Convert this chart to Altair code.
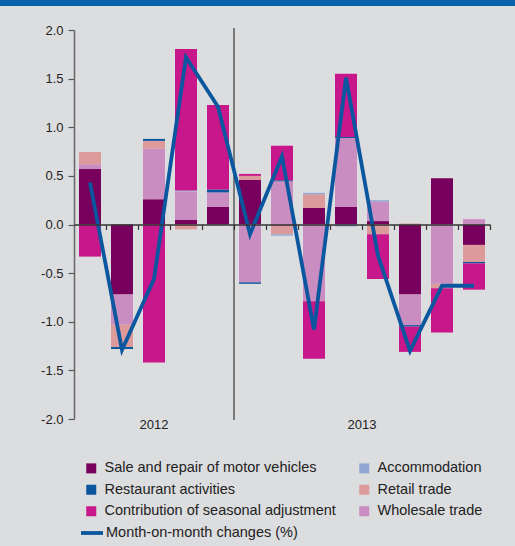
import altair as alt
import pandas as pd

months = ["2012-08", "2012-09", "2012-10", "2012-11", "2012-12",
          "2013-01", "2013-02", "2013-03", "2013-04", "2013-05",
          "2013-06", "2013-07", "2013-08"]

sale = [0.57, -0.72, 0.26, 0.05, 0.18, 0.46, -0.01, 0.17, 0.18, 0.035, -0.72, 0.475, -0.21]
wholesale = [0.05, -0.31, 0.52, 0.29, 0.15, -0.595, 0.445, -0.79, 0.71, 0.20, -0.315, -0.61, 0.055]
retail = [0.125, -0.23, 0.08, -0.05, 0.0, 0.04, -0.09, 0.14, 0.0, -0.10, 0.01, -0.045, -0.175]
accommodation = [0.0, 0.0, 0.0, 0.01, 0.0, 0.0, -0.015, 0.015, -0.02, 0.015, 0.0, 0.0, 0.0]
restaurant = [0.0, -0.02, 0.02, 0.0, 0.03, -0.015, 0.01, 0.0, 0.01, 0.0, -0.015, 0.0, -0.015]
seasonal = [-0.33, 0.0, -1.42, 1.455, 0.87, 0.02, 0.355, -0.59, 0.65, -0.46, -0.26, -0.455, -0.27]
mom = [0.43, -1.29, -0.56, 1.72, 1.21, -0.10, 0.70, -1.08, 1.51, -0.32, -1.30, -0.63, -0.63]

years = ["2012", "2013"]
year_pos = ["2012-10", "2013-04"]

series_names = ["Sale and repair of motor vehicles", "Wholesale trade", "Retail trade",
                "Accommodation", "Restaurant activities", "Contribution of seasonal adjustment"]
series_vals = [sale, wholesale, retail, accommodation, restaurant, seasonal]

legend_order = ["Sale and repair of motor vehicles", "Restaurant activities",
                "Contribution of seasonal adjustment", "Accommodation",
                "Retail trade", "Wholesale trade"]
legend_colors = ["#76005c", "#0a569e", "#c8168b", "#93a7d4", "#dc9a9a", "#c98dc2"]

rows = []
for k, (name, vals) in enumerate(zip(series_names, series_vals)):
    for m, v in zip(months, vals):
        rows.append({"month": m, "series": name, "value": v, "k": k})
bars_df = pd.DataFrame(rows)
line_df = pd.DataFrame({"month": months, "value": mom, "name": "Month-on-month changes (%)"})
year12 = pd.DataFrame({"month": [year_pos[0]], "label": [years[0]]})
year13 = pd.DataFrame({"month": [year_pos[1]], "label": [years[1]]})
div_df = pd.DataFrame({"month": ["2013-01"]})

FONT = "Liberation Sans"

xscale = alt.Scale(domain=months, paddingInner=0, paddingOuter=0)
yscale = alt.Scale(domain=[-2, 2], nice=False)

bars = alt.Chart(bars_df).mark_bar(width=alt.RelativeBandSize(22 / 32)).encode(
    x=alt.X("month:O", scale=xscale,
            axis=alt.Axis(orient="bottom", offset=-194.5, labels=False, title=None,
                          bandPosition=1, tickSize=5, tickColor="#333", tickWidth=1.2,
                          domainColor="#333", domainWidth=1.5, zindex=1)),
    y=alt.Y("value:Q", stack="zero", scale=yscale,
            axis=alt.Axis(values=[-2, -1.5, -1, -0.5, 0, 0.5, 1, 1.5, 2],
                          labelExpr="replace(format(datum.value, '.1f'), '\u2212', '-')",
                          title=None, grid=False, tickSize=6, tickColor="#555",
                          domainColor="#666", domainWidth=1.5, tickWidth=1.2,
                          labelFont=FONT, labelFontSize=13, labelColor="#222",
                          labelPadding=5)),
    color=alt.Color("series:N",
                    scale=alt.Scale(domain=legend_order, range=legend_colors),
                    legend=alt.Legend(orient="none", legendX=10, legendY=431, columns=2,
                                      columnPadding=21, rowPadding=6.5, symbolType="square",
                                      symbolSize=100, symbolStrokeWidth=0, labelOffset=6,
                                      labelFont=FONT, labelFontSize=14.5, labelColor="#222",
                                      title=None, padding=0, labelLimit=400)),
    order=alt.Order("k:Q", sort="ascending"),
)

divider = alt.Chart(div_df).mark_rule(color="#7a7a7a", strokeWidth=2).encode(
    x=alt.X("month:O", scale=xscale, bandPosition=0),
    y=alt.value(-2),
    y2=alt.value(390),
)

line = alt.Chart(line_df).mark_line(strokeWidth=3.8, strokeJoin="miter").encode(
    x=alt.X("month:O", scale=xscale),
    y=alt.Y("value:Q", scale=yscale),
    stroke=alt.Stroke("name:N", scale=alt.Scale(range=["#0a579f"]),
                      legend=alt.Legend(orient="none", legendX=5, legendY=490,
                                        symbolType="stroke", symbolSize=484,
                                        symbolStrokeWidth=3.8, labelOffset=1,
                                        labelFont=FONT, labelFontSize=14.5,
                                        labelColor="#222", title=None, padding=0,
                                        labelLimit=400)),
)

t12 = alt.Chart(year12).mark_text(font=FONT, fontSize=13, color="#222", baseline="middle").encode(
    x=alt.X("month:O", scale=xscale, bandPosition=0.5), y=alt.value(395), text="label:N")
t13 = alt.Chart(year13).mark_text(font=FONT, fontSize=13, color="#222", baseline="middle").encode(
    x=alt.X("month:O", scale=xscale, bandPosition=1), y=alt.value(395), text="label:N")

band = alt.Chart(div_df).mark_rect(color="#0a62aa").encode(
    x=alt.value(-74), x2=alt.value(441), y=alt.value(-30), y2=alt.value(-24))

chart = alt.layer(band, divider, bars, line, t12, t13).resolve_scale(
    color="independent", stroke="independent"
).properties(
    width=416, height=389,
    autosize=alt.AutoSizeParams(type="none"),
    padding={"left": 74, "top": 30, "right": 25, "bottom": 127},
).configure(background="#dcdddf").configure_view(stroke=None)

chart.save("out.html", embed_options={"renderer": "svg", "actions": False})
